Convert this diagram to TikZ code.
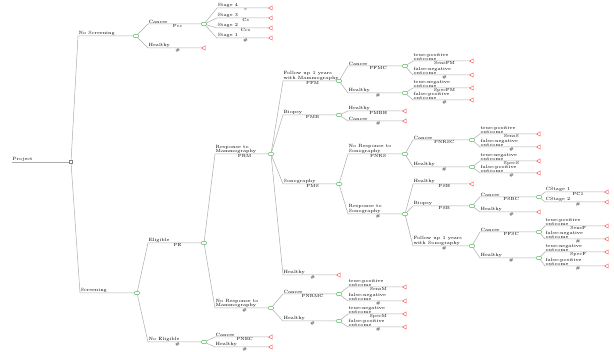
\documentclass[tikz,border=0pt]{standalone}
\usepackage{amsmath}
\usepackage{amssymb}
\usepackage{tikz}
\usetikzlibrary{shapes.geometric}

\tikzset{
  br/.style={gray!65, line width=0.5pt},
  chance/.style={ellipse, draw=green!40!gray, fill=white, minimum width=6pt, minimum height=3.5pt, inner sep=0pt, line width=0.4pt},
  term/.style={regular polygon, regular polygon sides=3, shape border rotate=90, draw=red!75, fill=white, minimum size=5pt, inner sep=0pt, line width=0.4pt},
  dec/.style={rectangle, draw=gray, fill=white, minimum size=3pt, inner sep=0pt, line width=0.4pt},
  lab/.style={anchor=south west, inner sep=0.4pt, align=left, text=black, font=\fontsize{4.6}{4.1}\selectfont},
  pr/.style={inner sep=0.4pt, text=black, font=\fontsize{4.4}{4.4}\selectfont},
}

% parent, name, x from, x to, y, label, prob, end shape
\newcommand{\branch}[8]{%
  \coordinate (#2s) at (#3,#5);
  \node[#8] (#2) at (#4,#5) {};
  \draw[br] (#1) -- (#2s) -- (#2) node[pos=0.56,below,pr] {#7};
  \node[lab] at (#2s) {#6};
}

\begin{document}
\begin{tikzpicture}[x=1pt, y=-1pt]
  \useasboundingbox (0,0) rectangle (614,352);

  \coordinate (projs) at (12,162);
  \node[dec] (root) at (71,162) {};
  \draw[br] (projs) -- (root);
  \node[lab] at (projs) {Project};

  \branch{root}{nos}{78}{136}{36}{No Screening}{}{chance}
  \branch{root}{scr}{80}{137}{293}{Screening}{}{chance}

  % no screening
  \branch{nos}{nosC}{148}{204}{24}{Cancer}{Pcc}{chance}
  \branch{nos}{nosH}{148}{204}{48}{Healthy}{\#}{term}
  \branch{nosC}{st4}{217}{271}{8}{Stage 4}{c}{term}
  \branch{nosC}{st3}{217}{271}{18}{Stage 3}{Cs}{term}
  \branch{nosC}{st2}{217}{271}{28}{Stage 2}{Ccs}{term}
  \branch{nosC}{st1}{217}{271}{38}{Stage 1}{\#}{term}

  % screening
  \branch{scr}{eli}{148}{204}{243}{Eligible}{PE}{chance}
  \branch{scr}{noe}{148}{204}{342}{No Eligible}{\#}{chance}
  \branch{noe}{noeC}{215}{271}{337}{Cancer}{PNEC}{term}
  \branch{noe}{noeH}{215}{271}{347}{Healthy}{\#}{term}

  \branch{eli}{rm}{215}{271}{154}{Response to\\Mammography}{PRM}{chance}
  \branch{eli}{nrm}{215}{271}{308}{No Response to\\Mammography}{\#}{chance}

  % response to mammography
  \branch{rm}{fum}{283}{339}{81}{Follow up 1 years\\with Mammography}{PFM}{chance}
  \branch{rm}{bim}{283}{339}{115}{Biopsy}{PMB}{chance}
  \branch{rm}{son}{283}{339}{184}{Sonography}{PMS}{chance}
  \branch{rm}{rmH}{283}{339}{275}{Healthy}{\#}{term}
  \node[pr, text=gray!45, anchor=west] (rmHmore) at (345,274) {...};

  \branch{fum}{fumC}{348}{405}{66}{Cancer}{PFMC}{chance}
  \branch{fum}{fumH}{348}{405}{93}{Healthy}{\#}{chance}
  \branch{fumC}{fumCtp}{413}{472}{61}{true-positive\\outcome}{SensFM}{term}
  \branch{fumC}{fumCfn}{413}{472}{75}{false-negative\\outcome}{\#}{term}
  \branch{fumH}{fumHtn}{413}{472}{88}{true-negative\\outcome}{SpecFM}{term}
  \branch{fumH}{fumHfp}{413}{472}{100}{false-positive\\outcome}{\#}{term}

  \branch{bim}{bimH}{348}{405}{111}{Healthy}{PMBH}{term}
  \branch{bim}{bimC}{348}{405}{121}{Cancer}{\#}{term}

  % sonography
  \branch{son}{nrs}{348}{405}{154}{No Response to\\Sonography}{PNRS}{chance}
  \branch{son}{rs}{348}{405}{214}{Response to\\Sonography}{\#}{chance}

  \branch{nrs}{nrsC}{413}{472}{140}{Cancer}{PNRSC}{chance}
  \branch{nrs}{nrsH}{413}{472}{167}{Healthy}{\#}{chance}
  \branch{nrsC}{nrsCtp}{480}{539}{134}{true-positive\\outcome}{SensS}{term}
  \branch{nrsC}{nrsCfn}{480}{539}{147}{false-negative\\outcome}{\#}{term}
  \branch{nrsH}{nrsHtn}{480}{539}{161}{true-negative\\outcome}{SpecS}{term}
  \branch{nrsH}{nrsHfp}{480}{539}{173}{false-positive\\outcome}{\#}{term}

  \branch{rs}{rsH}{413}{472}{184}{Healthy}{PSH}{term}
  \branch{rs}{bis}{413}{472}{206}{Biopsy}{PSB}{chance}
  \branch{rs}{fus}{413}{472}{246}{Follow up 1 years\\with Sonography}{\#}{chance}
  \branch{bis}{bisC}{480}{539}{197}{Cancer}{PSBC}{chance}
  \branch{bis}{bisH}{480}{539}{212}{Healthy}{\#}{term}
  \branch{bisC}{cs1}{545}{607}{192}{CStage 1}{PC1}{term}
  \branch{bisC}{cs2}{545}{607}{202}{CStage 2}{\#}{term}
  \branch{fus}{fusC}{480}{539}{232}{Cancer}{PFSC}{chance}
  \branch{fus}{fusH}{480}{539}{258}{Healthy}{\#}{chance}
  \branch{fusC}{fusCtp}{545}{607}{226}{true-positive\\outcome}{SensF}{term}
  \branch{fusC}{fusCfn}{545}{607}{239}{false-negative\\outcome}{\#}{term}
  \branch{fusH}{fusHtn}{545}{607}{252}{true-negative\\outcome}{SpecF}{term}
  \branch{fusH}{fusHfp}{545}{607}{266}{false-positive\\outcome}{\#}{term}

  % no response to mammography
  \branch{nrm}{nrmC}{283}{339}{294}{Cancer}{PNRMC}{chance}
  \branch{nrm}{nrmH}{283}{339}{321}{Healthy}{\#}{chance}
  \branch{nrmC}{nrmCtp}{348}{405}{287}{true-positive\\outcome}{SensM}{term}
  \branch{nrmC}{nrmCfn}{348}{405}{301}{false-negative\\outcome}{\#}{term}
  \branch{nrmH}{nrmHtn}{348}{405}{314}{true-negative\\outcome}{SpecM}{term}
  \branch{nrmH}{nrmHfp}{348}{405}{327}{false-positive\\outcome}{\#}{term}
\end{tikzpicture}
\end{document}
